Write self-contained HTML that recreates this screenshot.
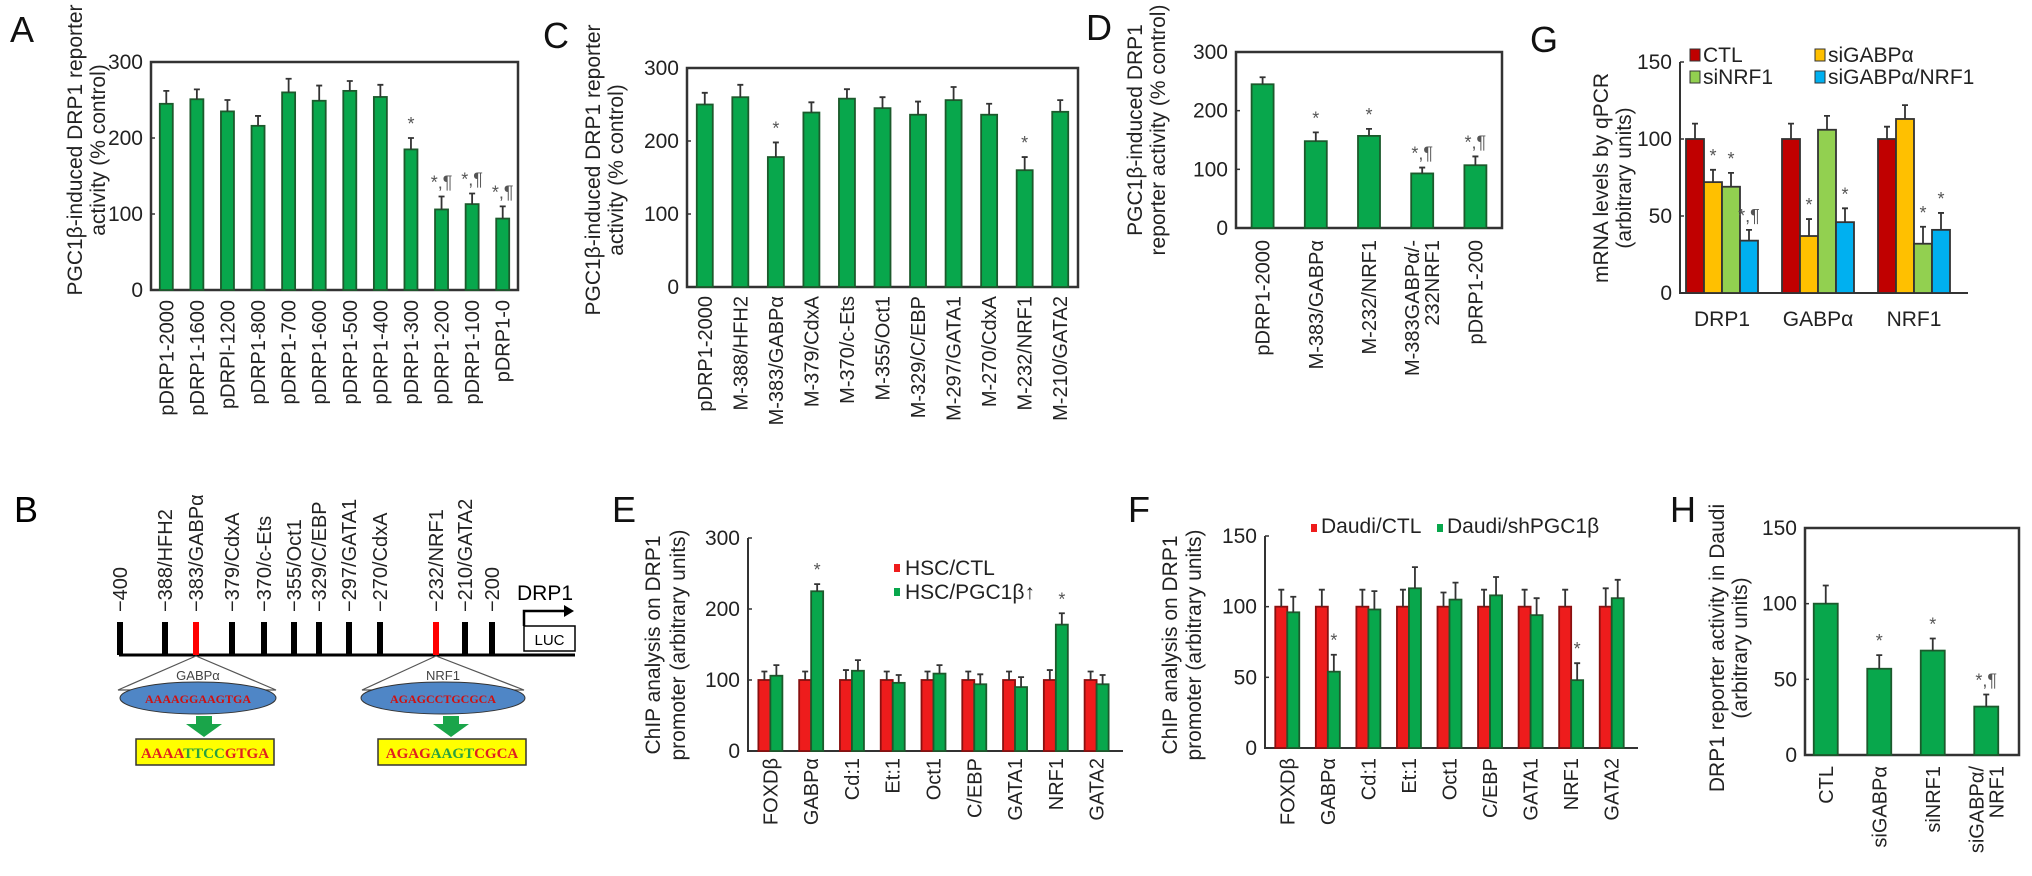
<!DOCTYPE html>
<html><head><meta charset="utf-8"><style>
html,body{margin:0;padding:0;background:#fff;}
svg{display:block;font-family:"Liberation Sans",Arial,sans-serif;}
</style></head><body>
<svg id="fig" width="2032" height="876" viewBox="0 0 2032 876" xmlns="http://www.w3.org/2000/svg">
<g id="panelB">
 <text x="14" y="522" font-size="36">B</text>
 <line x1="119" y1="655" x2="575" y2="655" stroke="#000" stroke-width="3"/>
 <rect x="524" y="626" width="51" height="25" fill="#fff" stroke="#000" stroke-width="1.5"/>
 <text x="549.5" y="645" font-size="15" text-anchor="middle">LUC</text>
 <path d="M524 626 V611 H566" fill="none" stroke="#000" stroke-width="2.5"/>
 <path d="M564 605 L574 611 L564 617 Z" fill="#000"/>
 <text x="545" y="600" font-size="21" text-anchor="middle">DRP1</text>
 <polygon points="196,656 118,690 276,690" fill="#fff" stroke="#555" stroke-width="1.2"/>
 <ellipse cx="198" cy="698" rx="78" ry="16" fill="#4f86c6" stroke="#333"/>
 <text x="198" y="680" font-size="13" text-anchor="middle" fill="#444">GABPα</text>
 <text x="198" y="703" font-size="12" text-anchor="middle" fill="#d01010" font-family="Liberation Serif" font-weight="bold">AAAAGGAAGTGA</text>
 <polygon points="436,656 362,690 524,690" fill="#fff" stroke="#555" stroke-width="1.2"/>
 <ellipse cx="443" cy="698" rx="82" ry="16" fill="#4f86c6" stroke="#333"/>
 <text x="443" y="680" font-size="13" text-anchor="middle" fill="#444">NRF1</text>
 <text x="443" y="703" font-size="12" text-anchor="middle" fill="#d01010" font-family="Liberation Serif" font-weight="bold">AGAGCCTGCGCA</text>
 <path d="M196 716 h16 v8 h10 l-18 13 l-18 -13 h10 z" fill="#1aa54a"/>
 <path d="M443 716 h16 v8 h10 l-18 13 l-18 -13 h10 z" fill="#1aa54a"/>
 <rect x="136" y="739" width="138" height="26" fill="#ffff00" stroke="#333" stroke-width="1.5"/>
 <text x="205" y="758" font-size="15" text-anchor="middle" font-family="Liberation Serif" font-weight="bold"><tspan fill="#e02020">AAAA</tspan><tspan fill="#2aa040">TTCC</tspan><tspan fill="#e02020">GTGA</tspan></text>
 <rect x="378" y="739" width="148" height="26" fill="#ffff00" stroke="#333" stroke-width="1.5"/>
 <text x="452" y="758" font-size="15" text-anchor="middle" font-family="Liberation Serif" font-weight="bold"><tspan fill="#e02020">AGAG</tspan><tspan fill="#2aa040">AAGT</tspan><tspan fill="#e02020">CGCA</tspan></text>
</g>
<g id="charts"></g>
</svg>
<script>
const catsA = ["pDRP1-2000","pDRP1-1600","pDRPl-1200","pDRP1-800","pDRP1-700","pDRP1-600","pDRP1-500","pDRP1-400","pDRP1-300","pDRP1-200","pDRP1-100","pDRP1-0"];
const valsA = [245,251,235,216,260,249,262,254,185,106,113,94];
const errA  = [17,13,15,13,18,20,13,16,15,17,14,16];
const sigA  = ["","","","","","","","","*","*,¶","*,¶","*,¶"];

const catsC = ["pDRP1-2000","M-388/HFH2","M-383/GABPα","M-379/CdxA","M-370/c-Ets","M-355/Oct1","M-329/C/EBP","M-297/GATA1","M-270/CdxA","M-232/NRF1","M-210/GATA2"];
const valsC = [250,260,178,239,258,245,236,256,236,160,240];
const errC  = [16,17,20,14,13,15,18,18,15,18,16];
const sigC  = ["","","*","","","","","","","*",""];

const catsD = ["pDRP1-2000","M-383/GABPα","M-232/NRF1","M-383GABPα/-|232NRF1","pDRP1-200"];
const valsD = [245,148,157,93,107];
const errD  = [12,15,12,10,15];
const sigD  = ["","*","*","*,¶","*,¶"];

const catsG = ["DRP1","GABPα","NRF1"];
const seriesG = ["CTL","siGABPα","siNRF1","siGABPα/NRF1"];
const valsG_CTL  = [100,100,100];
const valsG_siGA = [72,37,113];
const valsG_siNR = [69,106,32];
const valsG_both = [34,46,41];
const errG_CTL  = [10,10,8];
const errG_siGA = [8,11,9];
const errG_siNR = [9,9,11];
const errG_both = [7,9,11];
const sigG_CTL  = ["","",""];
const sigG_siGA = ["*","*",""];
const sigG_siNR = ["*","","*"];
const sigG_both = ["*,¶","*","*"];

const catsE = ["FOXDβ","GABPα","Cd:1","Et:1","Oct1","C/EBP","GATA1","NRF1","GATA2"];
const valsE_ctl = [100,100,100,100,100,100,100,100,100];
const valsE_pgc = [106,225,113,96,109,94,90,178,94];
const errE_ctl  = [12,12,14,12,12,12,12,14,12];
const errE_pgc  = [15,10,15,11,12,14,14,16,13];
const sigE_pgc  = ["","*","","","","","","*",""];

const catsF = ["FOXDβ","GABPα","Cd:1","Et:1","Oct1","C/EBP","GATA1","NRF1","GATA2"];
const valsF_ctl = [100,100,100,100,100,100,100,100,100];
const valsF_sh  = [96,54,98,113,105,108,94,48,106];
const errF_ctl  = [12,12,12,12,10,12,12,12,13];
const errF_sh   = [11,12,13,15,12,13,12,12,13];
const sigF_sh   = ["","*","","","","","","*",""];

const catsH = ["CTL","siGABPα","siNRF1","siGABPα/|NRF1"];
const valsH = [100,57,69,32];
const errH  = [12,9,8,8];
const sigH  = ["","*","*","*,¶"];

const NS="http://www.w3.org/2000/svg";
const root=document.getElementById('charts');
function mk(tag,attrs,parent){const e=document.createElementNS(NS,tag);for(const k in attrs)e.setAttribute(k,attrs[k]);(parent||root).appendChild(e);return e;}
function txt(s,attrs,parent){const e=mk('text',attrs,parent);e.textContent=s;return e;}

function axes(g,p){
  const ys=v=>p.yBot-(v/p.max)*(p.yBot-p.yTop);
  if(p.box){const r=mk('rect',{x:p.x0,y:p.yTop,width:p.x1-p.x0,height:p.yBot-p.yTop,fill:'none',stroke:'#333','stroke-width':2.5},g);
    
    
  } else {
    const a=mk('path',{d:`M${p.x0} ${p.yTop} V${p.yBot} H${p.x1}`,fill:'none',stroke:'#333','stroke-width':2},g);
    
    
  }
  p.ticks.forEach(t=>{
    const y=ys(t);
    mk('line',{x1:p.x0,x2:p.x0+4,y1:y,y2:y,stroke:'#333','stroke-width':1.5},g);
    const l=txt(String(t),{x:p.x0-8,y:y+7,'font-size':21,'text-anchor':'end',fill:'#222'},g);
    
    
  });
  return ys;
}
function ytitle(g,lines,cx,cy,size){
  lines.forEach((s,i)=>{
    const t=txt(s,{transform:`translate(${cx[i]},${cy}) rotate(-90)`,'font-size':size||21,'text-anchor':'middle',fill:'#222'},g);
    
    
  });
}
function letter(g,s,x,y){const t=txt(s,{x:x,y:y,'font-size':36,fill:'#111'},g);
  
  }
function bar(g,cx,w,v,e,ys,fill,stroke,sig){
  const y=ys(v), y0=ys(0);
  const r=mk('rect',{x:cx-w/2,y:y,width:w,height:y0-y,fill:fill,stroke:stroke,'stroke-width':1.8},g);
  
  
  const ye=ys(v+e);
  const eb=mk('path',{d:`M${cx} ${y} V${ye} M${cx-3} ${ye} H${cx+3}`,stroke:'#333','stroke-width':1.8,fill:'none'},g);
  
  
  if(sig){const s=txt(sig,{x:cx,y:ye-8,'font-size':18,'text-anchor':'middle',fill:'#555'},g);
    
    }
}
function rotLabel(g,s,x,y,size){
  const parts=s.split('|');
  parts.forEach((p,i)=>{
    const off=(i-(parts.length-1)/2)*20;
    const t=txt(p,{transform:`translate(${x+7+off},${y}) rotate(-90)`,'font-size':size||20,'text-anchor':'end',fill:'#222'},g);
    
    
  });
}
function panelG(name){const g=mk('g',{});return g;}

const GREEN='#08a74c', GSTROKE='#1c5a2c', RED='#ee1c1c', RSTROKE='#8a1010';

(function(){
  const g=panelG('panel-a-chart');
  const p={x0:151,x1:518,yTop:62,yBot:290,max:300,ticks:[0,100,200,300],box:true};
  const ys=axes(g,p); letter(g,'A',10,42);
  ytitle(g,['PGC1β-induced DRP1 reporter','activity (% control)'],[82,105],150);
  const step=(p.x1-p.x0)/catsA.length;
  catsA.forEach((c,i)=>{const cx=p.x0+step*(i+0.5);
    bar(g,cx,13,valsA[i],errA[i],ys,GREEN,GSTROKE,sigA[i]); rotLabel(g,c,cx,300);});
})();
(function(){
  const g=panelG('panel-c-chart');
  const p={x0:687,x1:1078,yTop:68,yBot:287,max:300,ticks:[0,100,200,300],box:true};
  const ys=axes(g,p); letter(g,'C',543,48);
  ytitle(g,['PGC1β-induced DRP1 reporter','activity (% control)'],[600,623],170);
  const step=(p.x1-p.x0)/catsC.length;
  catsC.forEach((c,i)=>{const cx=p.x0+step*(i+0.5);
    bar(g,cx,16,valsC[i],errC[i],ys,GREEN,GSTROKE,sigC[i]); rotLabel(g,c,cx,296);});
})();
(function(){
  const g=panelG('panel-d-chart');
  const p={x0:1236,x1:1502,yTop:52,yBot:228,max:300,ticks:[0,100,200,300],box:true};
  const ys=axes(g,p); letter(g,'D',1086,40);
  ytitle(g,['PGC1β-induced DRP1','reporter activity (% control)'],[1142,1165],130);
  const step=(p.x1-p.x0)/catsD.length;
  catsD.forEach((c,i)=>{const cx=p.x0+step*(i+0.5);
    bar(g,cx,22,valsD[i],errD[i],ys,GREEN,GSTROKE,sigD[i]); rotLabel(g,c,cx,240);});
})();
(function(){
  const g=panelG('panel-g-chart');
  const p={x0:1680,x1:1968,yTop:62,yBot:293,max:150,ticks:[0,50,100,150],box:false};
  const ys=axes(g,p); letter(g,'G',1530,52);
  ytitle(g,['mRNA levels by qPCR','(arbitrary units)'],[1608,1631],178);
  const cols=['#c00000','#ffc000','#92d050','#00b0f0'];
  const vals=[valsG_CTL,valsG_siGA,valsG_siNR,valsG_both];
  const errs=[errG_CTL,errG_siGA,errG_siNR,errG_both];
  const sigs=[sigG_CTL,sigG_siGA,sigG_siNR,sigG_both];
  const step=(p.x1-p.x0)/catsG.length, bw=18;
  catsG.forEach((c,i)=>{const gc=p.x0+step*(i+0.5)-6;
    seriesG.forEach((s,j)=>{bar(g,gc+(j-1.5)*bw,bw,vals[j][i],errs[j][i],ys,cols[j],'#333',sigs[j][i]);});
    const t=txt(c,{x:gc,y:326,'font-size':21,'text-anchor':'middle',fill:'#222'},g);
    
    
  });
  const lx=[1690,1815,1690,1815], ly=[62,62,84,84];
  seriesG.forEach((s,j)=>{
    const r=mk('rect',{x:lx[j],y:ly[j]-13,width:10,height:12,fill:cols[j],stroke:'#333','stroke-width':1},g);
    
    
    const t=txt(s,{x:lx[j]+13,y:ly[j],'font-size':21,fill:'#222'},g);
    
    
  });
})();
(function(){
  const g=panelG('panel-e-chart');
  const p={x0:748,x1:1123,yTop:538,yBot:751,max:300,ticks:[0,100,200,300],box:false};
  const ys=axes(g,p); letter(g,'E',612,522);
  ytitle(g,['ChIP analysis on DRP1','promoter (arbitrary units)'],[660,685],645);
  const step=(p.x1-p.x0-8)/catsE.length, bw=12;
  catsE.forEach((c,i)=>{const gc=p.x0+6+step*(i+0.5)-4;
    bar(g,gc-bw/2,bw,valsE_ctl[i],errE_ctl[i],ys,RED,RSTROKE,'');
    bar(g,gc+bw/2,bw,valsE_pgc[i],errE_pgc[i],ys,GREEN,GSTROKE,sigE_pgc[i]);
    rotLabel(g,c,gc,758);});
  [['HSC/CTL',RED,575],['HSC/PGC1β↑',GREEN,599]].forEach(l=>{
    const r=mk('rect',{x:894,y:l[2]-11,width:6,height:8,fill:l[1]},g);
    
    
    const t=txt(l[0],{x:905,y:l[2],'font-size':21,fill:'#222'},g);
    
    
  });
})();
(function(){
  const g=panelG('panel-f-chart');
  const p={x0:1265,x1:1638,yTop:536,yBot:748,max:150,ticks:[0,50,100,150],box:false};
  const ys=axes(g,p); letter(g,'F',1128,522);
  ytitle(g,['ChIP analysis on DRP1','promoter (arbitrary units)'],[1177,1201],645);
  const step=(p.x1-p.x0-8)/catsF.length, bw=12;
  catsF.forEach((c,i)=>{const gc=p.x0+step*(i+0.5)+2;
    bar(g,gc-bw/2,bw,valsF_ctl[i],errF_ctl[i],ys,RED,RSTROKE,'');
    bar(g,gc+bw/2,bw,valsF_sh[i],errF_sh[i],ys,GREEN,GSTROKE,sigF_sh[i]);
    rotLabel(g,c,gc,758);});
  [['Daudi/CTL',RED,1311],['Daudi/shPGC1β',GREEN,1437]].forEach(l=>{
    const r=mk('rect',{x:l[2],y:524,width:6,height:8,fill:l[1]},g);
    
    
    const t=txt(l[0],{x:l[2]+10,y:533,'font-size':21,fill:'#222'},g);
    
    
  });
})();
(function(){
  const g=panelG('panel-h-chart');
  const p={x0:1805,x1:2019,yTop:528,yBot:755,max:150,ticks:[0,50,100,150],box:true};
  const ys=axes(g,p); letter(g,'H',1670,522);
  ytitle(g,['DRP1 reporter activity in Daudi','(arbitrary units)'],[1724,1747],648);
  const step=(p.x1-p.x0)/catsH.length;
  catsH.forEach((c,i)=>{const cx=p.x0+step*(i+0.5)-6;
    bar(g,cx,24,valsH[i],errH[i],ys,GREEN,GSTROKE,sigH[i]); rotLabel(g,c,cx,766);});
})();
const sitesB = ["−400","−388/HFH2","−383/GABPα","−379/CdxA","−370/c-Ets","−355/Oct1","−329/C/EBP","−297/GATA1","−270/CdxA","−232/NRF1","−210/GATA2","−200"];
const sitePosB = [120,165,196,232,264,294,319,349,380,436,465,492];
const siteRedB = [false,false,true,false,false,false,false,false,false,true,false,false];
(function(){
  const g=document.getElementById('panelB');
  sitesB.forEach((s,i)=>{
    const x=sitePosB[i];
    const t=mk('rect',{x:x-3,y:622,width:6,height:33,fill:siteRedB[i]?'#ff0000':'#000'},g);
    
    
    const l=txt(s,{transform:`translate(${x+7},${612}) rotate(-90)`,'font-size':20,fill:'#222'},g);
    
    
  });
})();
</script>
</body></html>
